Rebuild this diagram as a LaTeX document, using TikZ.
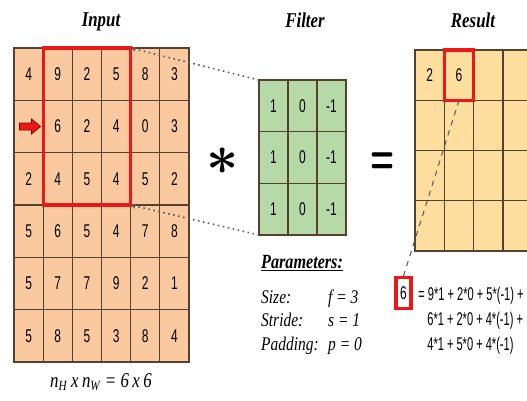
\documentclass[tikz,border=0pt]{standalone}
\usepackage{fontspec}
\usepackage{bm}
\setmainfont{Liberation Serif}
\newfontfamily\numfont[FakeStretch=0.65]{Liberation Sans}
\newfontfamily\eqfont[FakeStretch=0.6]{Liberation Sans}
\newfontfamily\capfont[FakeStretch=0.8]{Liberation Serif}
\usetikzlibrary{arrows.meta,calc,positioning}
\definecolor{inpc}{RGB}{250,201,160}
\definecolor{filc}{RGB}{182,217,168}
\definecolor{resc}{RGB}{253,222,158}
\definecolor{gridc}{RGB}{85,65,45}
\definecolor{hlc}{RGB}{236,24,24}
\definecolor{dotc}{RGB}{90,90,90}

\begin{document}
\begin{tikzpicture}[x=0.02cm,y=-0.02cm,
  cell/.style={draw=gridc,line width=0.6pt,inner sep=0pt,outer sep=0pt,
    font=\numfont\fontsize{10.5}{12}\selectfont},
  incell/.style={cell,fill=inpc,minimum width=0.5833cm,minimum height=1.0467cm},
  filcell/.style={cell,fill=filc,minimum width=0.58cm,minimum height=1.0333cm},
  rescell/.style={cell,fill=resc,minimum width=0.5867cm,minimum height=1.005cm},
  hlbox/.style={draw=hlc,line width=1.8pt},
  title/.style={font=\capfont\fontsize{12}{14}\selectfont\bfseries\itshape,anchor=base},
  partext/.style={font=\capfont\fontsize{11}{13}\selectfont\itshape,anchor=base west},
  eqtext/.style={font=\eqfont\fontsize{10.5}{12}\selectfont,anchor=base west,inner sep=0pt},
  dotline/.style={dotc,dotted,line width=0.9pt,-{Stealth[length=3pt,width=3pt]}},
  dashline/.style={dotc,dashed,line width=0.6pt}]
  \useasboundingbox (0,0) rectangle (527,400);
  \clip (0,0) rectangle (527,400);

  % titles
  \node[title] (tin) at (101,26) {Input};
  \node[title] (tfil) at (305,27) {Filter};
  \node[title] (tres) at (473,27) {Result};

  % input 6x6
  \foreach \row [count=\r] in {{4,9,2,5,8,3},{{},6,2,4,0,3},{2,4,5,4,5,2},{5,6,5,4,7,8},{5,7,7,9,2,1},{5,8,5,3,8,4}}
    \foreach \v [count=\c] in \row
      \node[incell] (in-\r-\c) at ({14+(\c-0.5)*29.17},{48+(\r-0.5)*52.33}) {\v};
  \draw[hlbox] (in-1-2.north west) rectangle (in-3-4.south east);
  % red marker arrow
  \filldraw[fill=hlc,draw=red!55!black,line width=0.4pt]
    ($(in-2-1)+(-9,-3.5)$) -- ++(12,0) -- ++(0,-4) -- ++(9,7.5) -- ++(-9,7.5) -- ++(0,-4) -- ++(-12,0) -- cycle;
  \node[font=\capfont\fontsize{12}{14}\selectfont\itshape,anchor=base] (size) at (101,387)
    {n\textsubscript{H}\,x\,n\textsubscript{W} = 6\,x\,6};

  % filter 3x3
  \foreach \r in {1,2,3}
    \foreach \v [count=\c] in {1,0,-1}
      \node[filcell] (fil-\r-\c) at ({259+(\c-0.5)*29},{80+(\r-0.5)*51.67}) {\v};
  \draw[dotline] (fil-1-1.north west) -- (in-1-4.north east);
  \draw[dotline] (fil-3-1.south west) -- (in-3-4.south east);

  \node (conv) at (223,161) {\scalebox{3.2}{$\bm{\ast}$}};
  \node (eq) at (383,163) {\scalebox{1.6}[2.9]{\sffamily\bfseries =}};

  % result 4x4
  \foreach \r in {1,...,4}
    \foreach \c in {1,...,4}
      \node[rescell] (res-\r-\c) at ({415+(\c-0.5)*29.33},{50+(\r-0.5)*50.25}) {};
  \node[font=\numfont\fontsize{10.5}{12}\selectfont] at (res-1-1) {2};
  \node[font=\numfont\fontsize{10.5}{12}\selectfont] at (res-1-2) {6};
  \draw[hlbox] (res-1-2.north west) rectangle (res-1-2.south east);

  % worked value
  \node[hlbox,font=\numfont\fontsize{10.5}{12}\selectfont,inner sep=0pt,
    minimum width=0.3cm,minimum height=0.62cm] (six) at (403.5,293) {6};
  \draw[dashline] (res-1-2.south) -- (six.north);
  \node[eqtext] (eq1) at (418,300) {= 9*1 + 2*0 + 5*(-1) +};
  \node[eqtext] (eq2) at (427,325) {6*1 + 2*0 + 4*(-1) +};
  \node[eqtext] (eq3) at (427,350) {4*1 + 5*0 + 4*(-1)};

  % parameters
  \node[partext,font=\capfont\fontsize{11.5}{13}\selectfont\bfseries\itshape] (par) at (255,268) {\underline{Parameters:}};
  \node[partext] (psz) at (255,303) {Size:};
  \node[partext] (pst) at (255,326) {Stride:};
  \node[partext] (ppd) at (255,350) {Padding:};
  \node[partext] (vsz) at (322,303) {f = 3};
  \node[partext] (vst) at (322,326) {s = 1};
  \node[partext] (vpd) at (322,350) {p = 0};
\end{tikzpicture}
\end{document}
